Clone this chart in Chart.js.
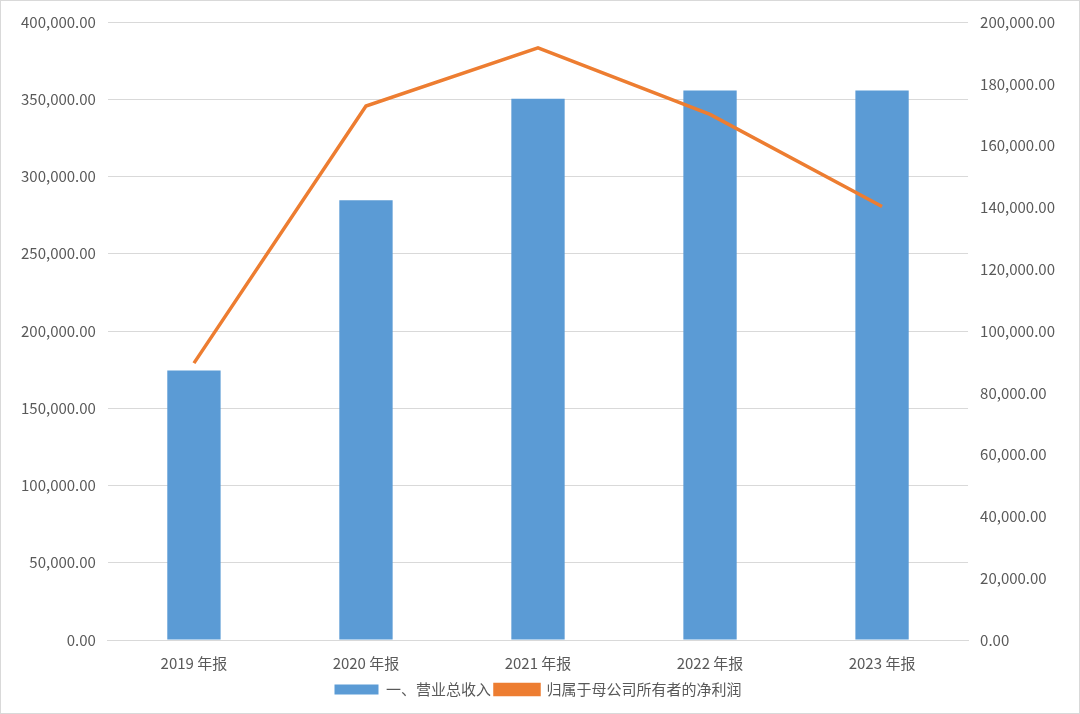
<!DOCTYPE html>
<html><head><meta charset="utf-8">
<script src="https://cdn.jsdelivr.net/npm/chart.js@4"></script>
<style>
html,body{margin:0;padding:0;background:#fff}
#wrap{width:1078px;height:712px;border:1px solid #d9d9d9;position:relative}
</style></head>
<body><div id="wrap"><canvas id="c" width="1078" height="712"></canvas></div>
<script>
// 数据
const categories = ['2019 年报', '2020 年报', '2021 年报', '2022 年报', '2023 年报'];
const revenue    = [174500, 284600, 350300, 355700, 355700];
const netProfit  = [89600, 172800, 191600, 170100, 140300];

const fmt = v => v.toLocaleString('en-US', { minimumFractionDigits: 2, maximumFractionDigits: 2 });
const font = { family: "'Noto Sans CJK SC', 'Noto Sans', sans-serif", size: 15 };

new Chart(document.getElementById('c'), {
    data: {
        labels: categories,
        datasets: [
            { type: 'line', label: '归属于母公司所有者的净利润', data: netProfit, yAxisID: 'y1',
              borderColor: '#ed7d31', backgroundColor: '#ed7d31', borderWidth: 3.5, pointRadius: 0, tension: 0, order: 0 },
            { type: 'bar', label: '一、营业总收入', data: revenue, yAxisID: 'y',
              backgroundColor: '#5b9bd5', barPercentage: 0.31, categoryPercentage: 1, order: 1 },
        ],
    },
    options: {
        responsive: false, animation: false,
        layout: { padding: { left: 8, right: 12, top: 14, bottom: 6 } },
        plugins: {
            legend: { position: 'bottom', reverse: true,
                labels: { color: '#595959', font, boxWidth: 44, boxHeight: 10, padding: 4 } },
            tooltip: { enabled: false },
        },
        scales: {
            x: { grid: { display: false }, border: { color: '#d9d9d9' },
                 ticks: { color: '#595959', font, padding: 6 } },
            y: { position: 'left', min: 0, max: 400000, border: { display: false },
                 grid: { color: '#d9d9d9', drawTicks: false },
                 ticks: { stepSize: 50000, color: '#595959', font, padding: 12, callback: fmt } },
            y1: { position: 'right', min: 0, max: 200000, border: { display: false },
                  grid: { display: false, drawTicks: false },
                  ticks: { stepSize: 20000, color: '#595959', font, padding: 12, callback: fmt } },
        },
    },
});
</script></body></html>
